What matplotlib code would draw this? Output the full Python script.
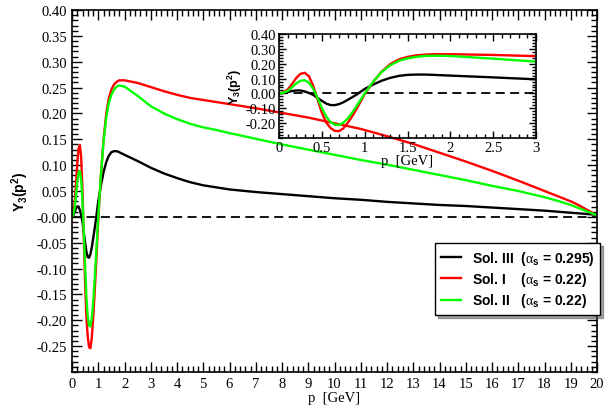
import numpy as np
import matplotlib
matplotlib.use("Agg")
import matplotlib.pyplot as plt
from matplotlib.ticker import MultipleLocator, FormatStrFormatter

# momentum grid (GeV)
p = [0.0, 0.05, 0.1, 0.15, 0.2, 0.25, 0.3, 0.35, 0.4, 0.45, 0.5, 0.55, 0.6, 0.65, 0.7,
     0.75, 0.8, 0.85, 0.9, 0.95, 1.0, 1.1, 1.2, 1.3, 1.4, 1.5, 1.6, 1.7, 1.8, 2.0,
     2.5, 3.0, 3.5, 4.0, 4.5, 5.0, 5.5, 6.0, 7.0, 8.0, 9.0, 10.0, 11.0, 12.0, 13.0,
     14.0, 15.0, 16.0, 17.0, 17.5, 18.0, 18.5, 19.0, 19.25, 19.5, 19.75, 20.0]

# Sol. III  (alpha_s = 0.295)
y_sol3 = [0.0, 0.003, 0.009, 0.016, 0.020, 0.020, 0.013, 0.003, -0.010, -0.030, -0.050,
          -0.068, -0.078, -0.079, -0.072, -0.060, -0.044, -0.027, -0.010, 0.010, 0.030,
          0.060, 0.086, 0.105, 0.118, 0.125, 0.127, 0.127, 0.125, 0.120,
          0.108, 0.095, 0.084, 0.075, 0.067, 0.061, 0.057, 0.053, 0.048, 0.044, 0.040,
          0.036, 0.033, 0.029, 0.026, 0.023, 0.021, 0.018, 0.015, 0.0135, 0.012, 0.010,
          0.008, 0.007, 0.006, 0.005, 0.004]

# Sol. I  (alpha_s = 0.22)
y_sol1 = [0.0, 0.007, 0.025, 0.062, 0.103, 0.132, 0.139, 0.115, 0.050, -0.040, -0.130,
          -0.195, -0.232, -0.252, -0.254, -0.236, -0.200, -0.158, -0.110, -0.058, -0.005,
          0.078, 0.148, 0.198, 0.229, 0.246, 0.256, 0.261, 0.264, 0.264,
          0.259, 0.251, 0.243, 0.236, 0.230, 0.226, 0.222, 0.218, 0.210, 0.201, 0.192,
          0.181, 0.170, 0.156, 0.141, 0.124, 0.107, 0.089, 0.070, 0.060, 0.050, 0.040,
          0.030, 0.024, 0.017, 0.010, 0.002]

# Sol. II  (alpha_s = 0.22)
y_sol2 = [0.0, 0.005, 0.016, 0.040, 0.067, 0.085, 0.089, 0.072, 0.030, -0.030, -0.097,
          -0.155, -0.192, -0.210, -0.212, -0.198, -0.170, -0.133, -0.090, -0.045, 0.000,
          0.080, 0.145, 0.190, 0.220, 0.236, 0.246, 0.252, 0.254, 0.252,
          0.234, 0.214, 0.200, 0.189, 0.180, 0.173, 0.168, 0.162, 0.151, 0.140, 0.130,
          0.120, 0.110, 0.101, 0.091, 0.081, 0.071, 0.060, 0.050, 0.044, 0.038, 0.031,
          0.023, 0.018, 0.013, 0.008, 0.003]

labels = [r"Sol. III  ($\alpha_\mathrm{s}$ = 0.295)",
          r"Sol. I    ($\alpha_\mathrm{s}$ = 0.22)",
          r"Sol. II   ($\alpha_\mathrm{s}$ = 0.22)"]
colors = ["black", "#ff0000", "#00ff00"]
series = [y_sol3, y_sol1, y_sol2]

plt.rcParams["font.family"] = "Liberation Serif"
plt.rcParams["mathtext.fontset"] = "custom"
plt.rcParams["mathtext.rm"] = "Liberation Sans:bold"
plt.rcParams["mathtext.bf"] = "Liberation Sans:bold"
plt.rcParams["mathtext.it"] = "Liberation Serif"

fig = plt.figure(figsize=(6.12, 4.14), dpi=100)
ax = fig.add_axes([72/612, 1-373/414, 525/612, 362/414])

def style_axes(a, major_len, minor_len, fs):
    a.tick_params(which="both", direction="in", top=True, right=True, labelsize=fs, width=1.0)
    a.tick_params(which="major", length=major_len)
    a.tick_params(which="minor", length=minor_len)
    for s in a.spines.values():
        s.set_linewidth(1.2)

ax.axhline(0, color="black", lw=1.3, ls=(0, (5, 3)))
for y, c, lab in zip(series, colors, labels):
    ax.plot(p, y, color=c, lw=1.7, label=lab)
ax.set_xlim(0, 20)
ax.set_ylim(-0.30, 0.40)
ax.xaxis.set_major_locator(MultipleLocator(1))
ax.xaxis.set_minor_locator(MultipleLocator(0.2))
ax.set_yticks(np.arange(-0.25, 0.401, 0.05))
ax.yaxis.set_minor_locator(MultipleLocator(0.01))
ax.yaxis.set_major_formatter(FormatStrFormatter("%.2f"))
style_axes(ax, 7, 4, 10.5)
ax.set_xlabel("p  [GeV]", fontsize=10.5, labelpad=1)
ax.set_ylabel(r"$\mathrm{Y_3(p^2)}$", fontsize=10, labelpad=4)

leg = ax.legend(loc="upper left", bbox_to_anchor=(435/612, 1-244/414),
                bbox_transform=fig.transFigure, borderaxespad=0, frameon=True,
                fancybox=False, shadow=True, framealpha=1, edgecolor="black",
                handlelength=1.45, borderpad=0.4, labelspacing=0.25, handletextpad=0.8,
                prop={"family": "Liberation Sans", "weight": "bold", "size": 10})
leg.get_frame().set_linewidth(1.0)

# inset
ins = fig.add_axes([279/612, 1-139/414, 257/612, 104/414])
ins.patch.set_alpha(0)
ins.axhline(0, color="black", lw=1.3, ls=(0, (5, 3)))
for y, c in zip(series, colors):
    ins.plot(p, y, color=c, lw=1.7)
ins.set_xlim(0, 3)
ins.set_ylim(-0.30, 0.40)
ins.xaxis.set_major_locator(MultipleLocator(0.5))
ins.xaxis.set_minor_locator(MultipleLocator(0.1))
ins.set_yticks(np.arange(-0.2, 0.401, 0.1))
ins.yaxis.set_minor_locator(MultipleLocator(0.02))
ins.yaxis.set_major_formatter(FormatStrFormatter("%.2f"))
ins.xaxis.set_major_formatter(FormatStrFormatter("%g"))
style_axes(ins, 5, 3, 10.5)
ins.tick_params(pad=2)
ins.set_xlabel("p  [GeV]", fontsize=10.5, labelpad=0)
ins.set_ylabel(r"$\mathrm{Y_3(p^2)}$", fontsize=9, labelpad=1)

fig.savefig("out.png", dpi=100)
